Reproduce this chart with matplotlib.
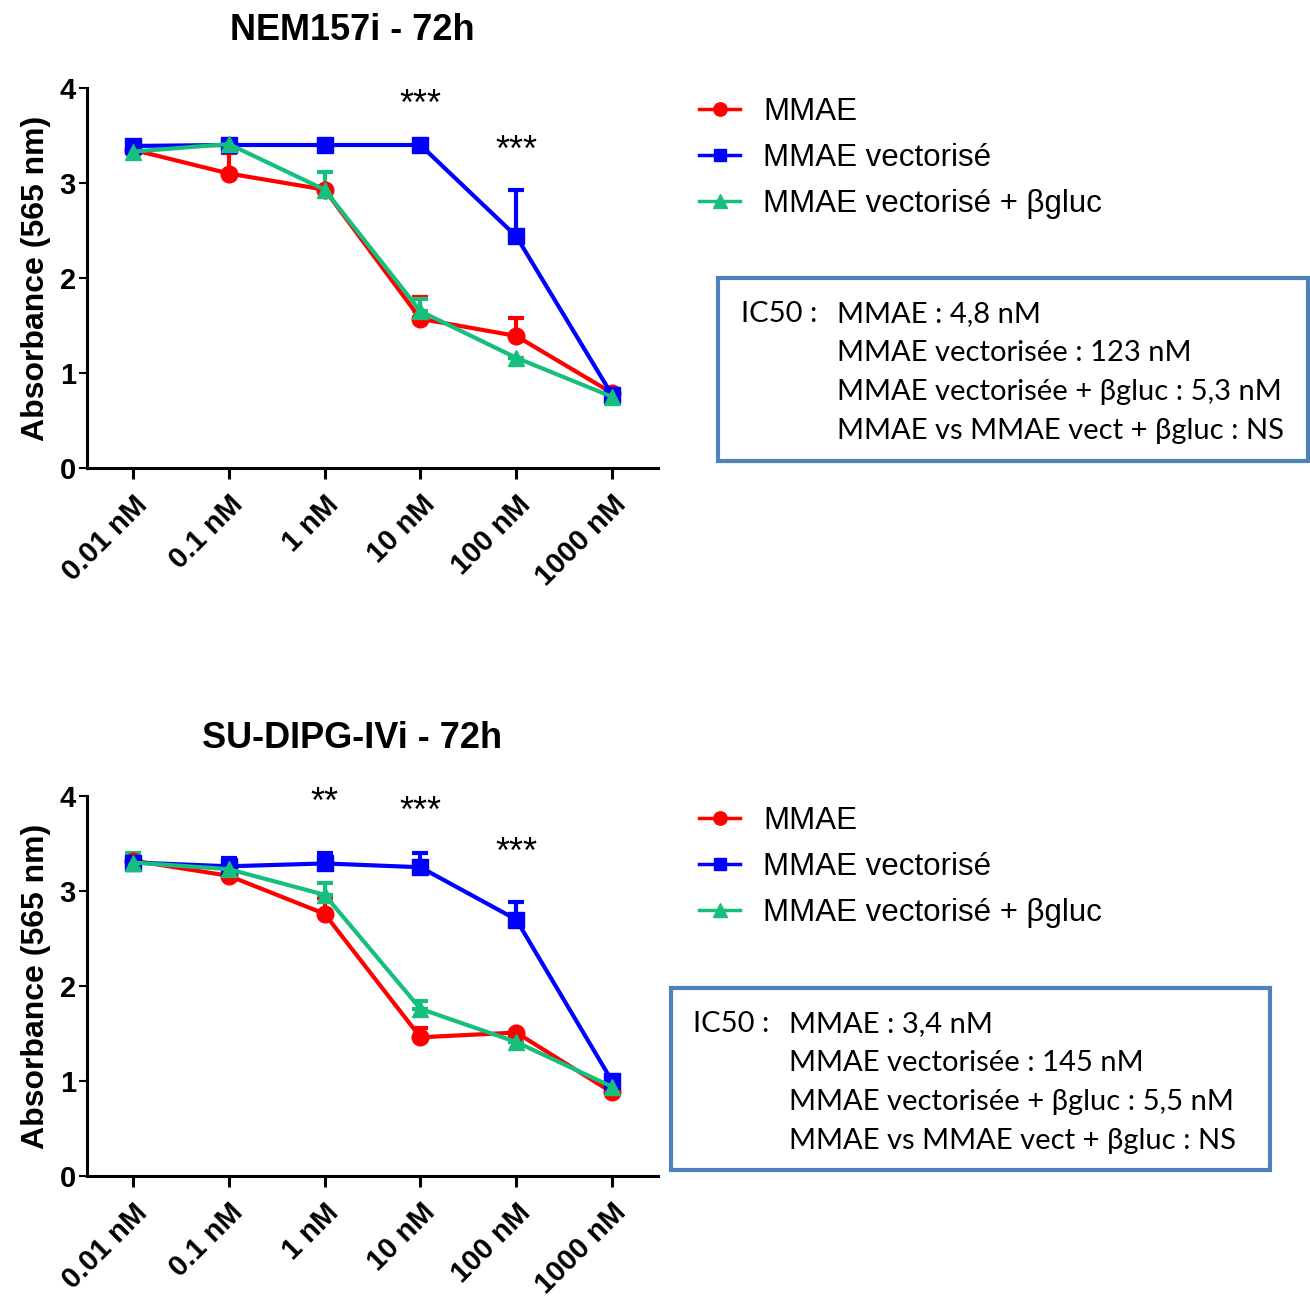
import matplotlib.pyplot as plt
import numpy as np
from matplotlib.lines import Line2D
from matplotlib.patches import Rectangle

# concentrations on the x axis
doses = ["0.01 nM", "0.1 nM", "1 nM", "10 nM", "100 nM", "1000 nM"]
series_names = ["MMAE", "MMAE vectorisé", "MMAE vectorisé + βgluc"]

# NEM157i - 72h
nem_mmae = [3.35, 3.10, 2.93, 1.57, 1.39, 0.79]
nem_mmae_err = [0.0, 0.22, 0.0, 0.23, 0.19, 0.0]
nem_vect = [3.39, 3.40, 3.40, 3.40, 2.44, 0.77]
nem_vect_err = [0.0, 0.0, 0.0, 0.0, 0.49, 0.0]
nem_gluc = [3.33, 3.41, 2.93, 1.65, 1.16, 0.75]
nem_gluc_err = [0.0, 0.0, 0.19, 0.13, 0.0, 0.08]
nem_stars = [(3, 3.82, "***"), (4, 3.33, "***")]
nem_ic50 = ["MMAE : 4,8 nM", "MMAE vectorisée : 123 nM",
            "MMAE vectorisée + βgluc : 5,3 nM", "MMAE vs MMAE vect + βgluc : NS"]

# SU-DIPG-IVi - 72h
su_mmae = [3.32, 3.16, 2.76, 1.46, 1.51, 0.88]
su_mmae_err = [0.0, 0.0, 0.17, 0.10, 0.0, 0.0]
su_vect = [3.30, 3.26, 3.29, 3.25, 2.70, 1.00]
su_vect_err = [0.0, 0.09, 0.11, 0.15, 0.18, 0.0]
su_gluc = [3.30, 3.23, 2.96, 1.76, 1.41, 0.94]
su_gluc_err = [0.10, 0.10, 0.12, 0.08, 0.07, 0.0]
su_stars = [(2, 3.92, "**"), (3, 3.83, "***"), (4, 3.40, "***")]
su_ic50 = ["MMAE : 3,4 nM", "MMAE vectorisée : 145 nM",
           "MMAE vectorisée + βgluc : 5,5 nM", "MMAE vs MMAE vect + βgluc : NS"]

colors = ["#FF0000", "#0000FF", "#17BF7C"]
markers = ["o", "s", "^"]
msizes = [12, 11, 12]

plt.rcParams['font.family'] = ['Liberation Sans', 'DejaVu Sans']

fig = plt.figure(figsize=(13.1, 12.97), dpi=100)
W, H = 1310, 1297


def panel(top_px, title, data, stars, ic50, legend_top, box):
    ax = fig.add_axes([87 / W, 1 - (top_px + 380) / H, 571 / W, 380 / H])
    x = np.arange(len(doses))
    for (vals, err), c, m, ms in zip(data, colors, markers, msizes):
        ax.errorbar(x, vals, yerr=[np.zeros(len(err)), err], color=c, marker=m,
                    markersize=ms, lw=3, elinewidth=3, capsize=6, capthick=3,
                    clip_on=False)
    for i, y, s in stars:
        ax.text(i, y, s, ha="center", va="center", fontsize=26)
    ax.set_xlim(-0.48, 5.48)
    ax.set_ylim(0, 4)
    ax.set_yticks([0, 1, 2, 3, 4])
    ax.set_xticks(x)
    ax.set_xticklabels(doses, rotation=45, ha="right", rotation_mode="anchor",
                       fontsize=21, fontweight="bold")
    for lab in ax.get_yticklabels():
        lab.set_fontsize(21)
        lab.set_fontweight("bold")
    ax.spines["top"].set_visible(False)
    ax.spines["right"].set_visible(False)
    ax.spines["left"].set_linewidth(2.2)
    ax.spines["bottom"].set_linewidth(2.2)
    ax.tick_params(axis="x", length=8, width=2.2, pad=8)
    ax.tick_params(axis="y", length=6, width=1.5, pad=2)
    ax.set_ylabel("Absorbance (565 nm)", fontsize=23, fontweight="bold", labelpad=6)
    fig.text(352 / W, 1 - (top_px - 58) / H, title, ha="center", va="center",
             fontsize=26, fontweight="bold")

    handles = [Line2D([0], [0], color=c, marker=m, markersize=ms * 0.8, lw=2.5)
               for c, m, ms in zip(colors, markers, msizes)]
    fig.legend(handles, series_names, loc="upper left",
               bbox_to_anchor=(690 / W, 1 - legend_top / H), frameon=False,
               fontsize=22.5, handlelength=1.3, handletextpad=0.75, labelspacing=0.5,
               borderaxespad=0, borderpad=0.3)

    bx0, by0, bx1, by1, tx = box
    fig.patches.append(Rectangle((bx0 / W, 1 - by1 / H), (bx1 - bx0) / W, (by1 - by0) / H,
                                 transform=fig.transFigure, fill=False,
                                 edgecolor="#4F81BD", lw=3))
    fig.text(tx / W, 1 - (by0 + 36) / H, "IC50 :", fontsize=21, family=["Lato", "DejaVu Sans"],
             va="center")
    for k, line in enumerate(ic50):
        fig.text((tx + 96) / W, 1 - (by0 + 36 + 39 * k) / H, line, fontsize=21,
                 family=["Lato", "DejaVu Sans"], va="center")


panel(88, "NEM157i - 72h",
      [(nem_mmae, nem_mmae_err), (nem_vect, nem_vect_err), (nem_gluc, nem_gluc_err)],
      nem_stars, nem_ic50, 88, (718, 278, 1308, 461, 741))
panel(796, "SU-DIPG-IVi - 72h",
      [(su_mmae, su_mmae_err), (su_vect, su_vect_err), (su_gluc, su_gluc_err)],
      su_stars, su_ic50, 797, (671, 988, 1270, 1170, 693))

fig.savefig("out.png", dpi=100)
